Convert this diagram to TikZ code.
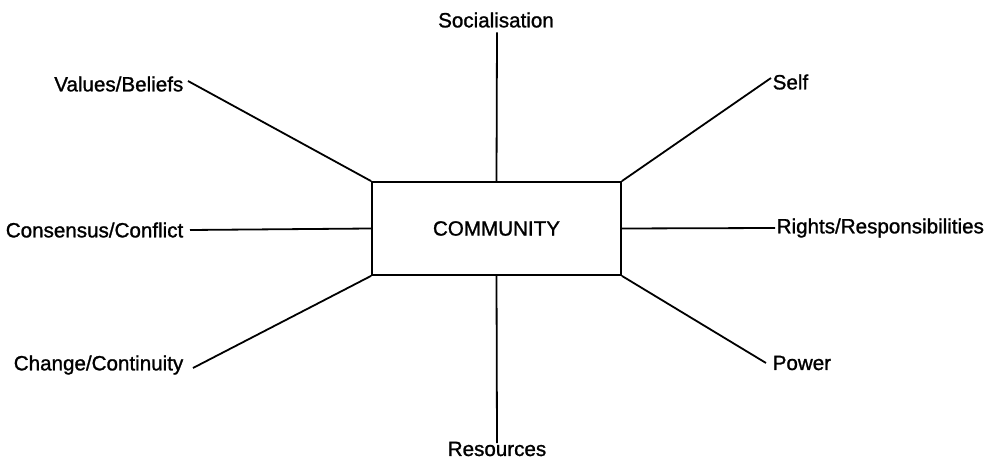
\documentclass[tikz,border=0pt]{standalone}
\usepackage{fontspec}
\setmainfont{Liberation Sans}
\newfontfamily\lblfont[FakeBold=1.2]{Liberation Sans}
\begin{document}
\begin{tikzpicture}[x=1pt,y=-1pt,
  lbl/.style={inner sep=1.5pt, font=\lblfont\fontsize{20.6}{22}\selectfont},
  conn/.style={line width=1.8pt},
  cbox/.style={draw, line width=1.8pt, minimum width=249pt, minimum height=93pt, font=\lblfont\fontsize{20.6}{22}\selectfont}]
\useasboundingbox[fill=white] (0,0) rectangle (989,462);
\node[cbox] (box) at (496.5,228.5) {COMMUNITY};
\node[lbl] (soc) at (496,20) {Socialisation};
\node[lbl] (res) at (497,449) {Resources};
\node[lbl, anchor=east] (vb) at (185,84) {Values/Beliefs};
\node[lbl, anchor=east] (cc) at (185,230) {Consensus/Conflict};
\node[lbl, anchor=east] (ch) at (185,365) {Change/Continuity};
\node[lbl, anchor=west] (self) at (771,82) {Self};
\node[lbl, anchor=west] (rr) at (775,228) {Rights/Responsibilities};
\node[lbl, anchor=west] (pow) at (771,363) {Power};
\draw[conn] (soc.south) ++(1,3) -- (box.north);
\draw[conn] (box.south) -- ([yshift=-3pt]res.north);
\draw[conn] ([xshift=3pt,yshift=3pt]vb.east) -- (box.north west);
\draw[conn] ([xshift=5pt]cc.east) -- (box.west);
\draw[conn] ([xshift=8pt,yshift=-3pt]ch.east) -- (box.south west);
\draw[conn] (box.north east) -- ([yshift=4pt]self.west);
\draw[conn] (box.east) -- (rr.west);
\draw[conn] (box.south east) -- ([xshift=-5pt]pow.west);
\end{tikzpicture}
\end{document}
